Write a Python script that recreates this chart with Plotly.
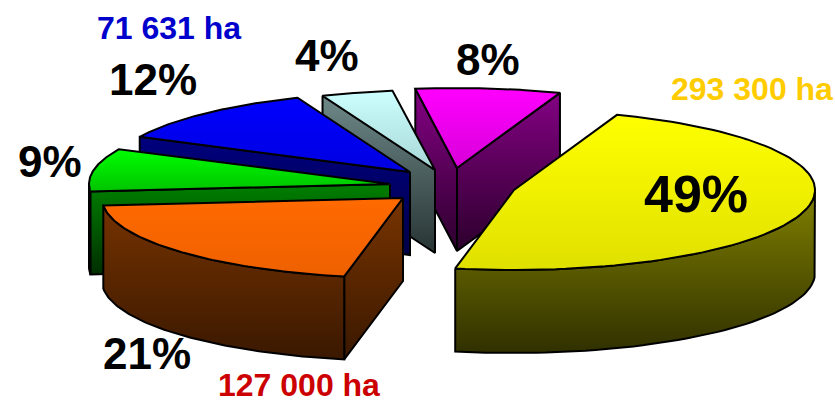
import numpy as np
import plotly.graph_objects as go

# data
slice_names = ["magenta", "lightcyan", "blue", "green", "orange", "yellow"]
shares = [8, 4, 12, 9, 21, 49]
area_labels = ["71 631 ha", "127 000 ha", "293 300 ha"]

# styling / layout constants for the drawing
W, H = 835, 404
RX, RY, DEPTH = 301, 80, 83
START_DEG = 70
hubs = {"magenta": (457, 168), "lightcyan": (435, 170), "blue": (410, 172),
        "green": (390, 184), "orange": (403, 198), "yellow": (514, 190)}
top_cols = {"magenta": ("#FF00FF", "#D800D8"), "lightcyan": ("#CCFFFF", "#A8D6D6"),
            "blue": ("#0000FF", "#0000E0"), "green": ("#00FF00", "#00C400"),
            "orange": ("#FF6A00", "#EE6000"), "yellow": ("#FFFF00", "#E0E000")}
wall_cols = {"magenta": ("#850085", "#2C002C"), "lightcyan": ("#6E8888", "#283434"),
             "blue": ("#00007E", "#000048"), "green": ("#008000", "#002E00"),
             "orange": ("#783400", "#3A1800"), "yellow": ("#808000", "#303000")}

fig = go.Figure()


def poly(xs, ys, cols, y0, y1):
    fig.add_trace(go.Scatter(
        x=list(xs) + [xs[0]], y=list(ys) + [ys[0]], mode="lines", fill="toself",
        line=dict(color="black", width=2), hoverinfo="skip", showlegend=False,
        fillgradient=dict(type="vertical", start=y0, stop=y1,
                          colorscale=[[0, cols[0]], [1, cols[1]]])))


angle = START_DEG
total = sum(shares)
for name, share in zip(slice_names, shares):
    t0, t1 = angle, angle + share / total * 360
    angle = t1
    cx, cy = hubs[name]
    ts = np.radians(np.linspace(t0, t1, 90))
    rx = cx + RX * np.cos(ts)
    ry = cy - RY * np.sin(ts)

    walls = []
    # visible cut faces
    if np.cos(ts[0]) > 0:
        walls.append(([cx, rx[0], rx[0], cx], [cy, ry[0], ry[0] + DEPTH, cy + DEPTH]))
    if np.cos(ts[-1]) < 0:
        walls.append(([cx, rx[-1], rx[-1], cx], [cy, ry[-1], ry[-1] + DEPTH, cy + DEPTH]))
    # visible part of the rim
    front = np.sin(ts) < 0
    if front.any():
        fx, fy = rx[front], ry[front]
        walls.append((list(fx) + list(fx[::-1]), list(fy) + list((fy + DEPTH)[::-1])))

    if walls:
        lo = min(min(w[1]) for w in walls)
        hi = max(max(w[1]) for w in walls)
        for wx, wy in walls:
            poly(wx, wy, wall_cols[name], lo, hi)

    tx, ty = [cx] + list(rx), [cy] + list(ry)
    poly(tx, ty, top_cols[name], min(ty), max(ty))

pct_pos = {8: (488, 59), 4: (327, 55), 12: (153, 79), 9: (50, 161), 21: (147, 353), 49: (696, 194)}
pct_size = {8: 44, 4: 44, 12: 44, 9: 44, 21: 44, 49: 52}
for s in shares:
    x, y = pct_pos[s]
    fig.add_annotation(x=x, y=y, text=f"{s}%", showarrow=False, xanchor="center", yanchor="middle",
                       font=dict(family="Liberation Sans", size=pct_size[s], color="black", weight="bold"))

area_pos = [(169, 28, "#0000CC"), (299, 385, "#CC0000"), (752, 89, "#FFCC00")]
for lab, (x, y, c) in zip(area_labels, area_pos):
    fig.add_annotation(x=x, y=y, text=lab, showarrow=False, xanchor="center", yanchor="middle", borderpad=0,
                       font=dict(family="Liberation Sans", size=32, color=c, weight="bold"))

fig.update_layout(
    width=W, height=H, margin=dict(l=0, r=0, t=0, b=0), showlegend=False,
    paper_bgcolor="white", plot_bgcolor="white",
    xaxis=dict(range=[0, W], visible=False, fixedrange=True),
    yaxis=dict(range=[H, 0], visible=False, fixedrange=True),
)
fig.write_html("out.html", config=dict(displayModeBar=False),
               post_script="document.body.style.margin='0';document.documentElement.style.overflow='hidden';")
